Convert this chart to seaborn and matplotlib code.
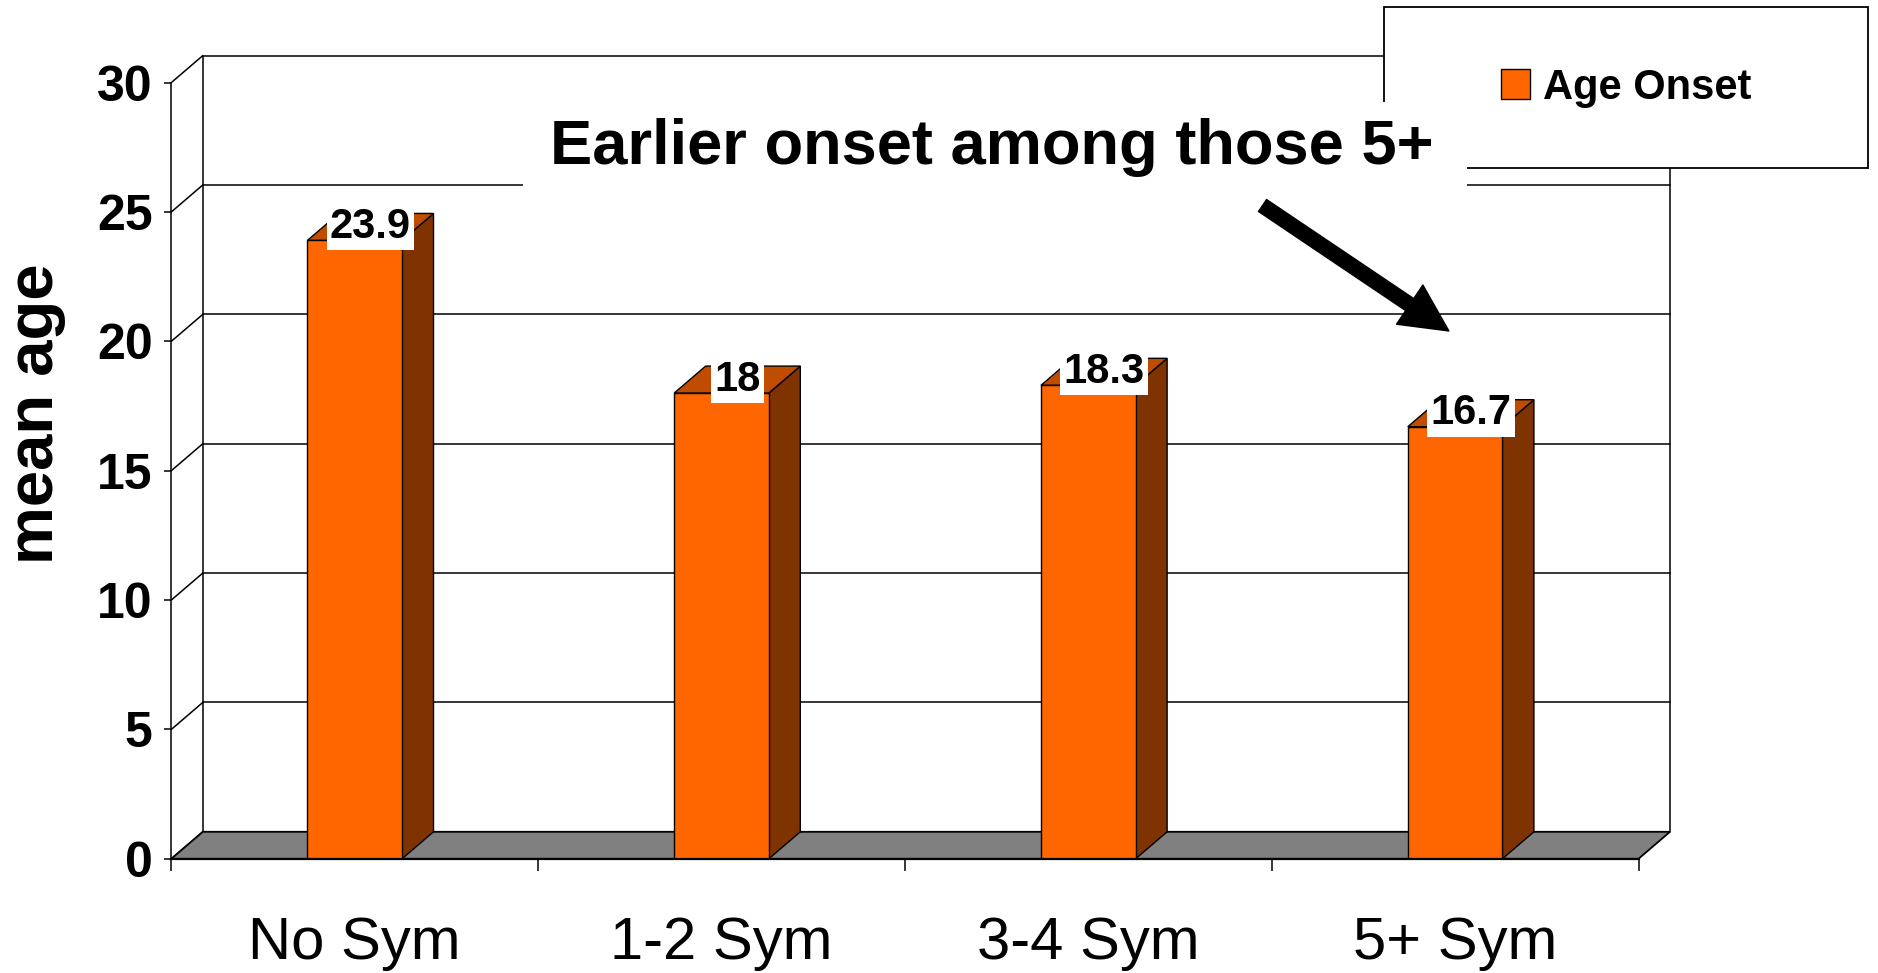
import matplotlib
matplotlib.use("Agg")
import matplotlib.pyplot as plt
from matplotlib.patches import Polygon, Rectangle, Patch
import seaborn as sns
import pandas as pd

# ---- data ----
categories = ["No Sym", "1-2 Sym", "3-4 Sym", "5+ Sym"]
age_onset = [23.9, 18.0, 18.3, 16.7]
y_ticks = [0, 5, 10, 15, 20, 25, 30]
series_name = "Age Onset"
y_title = "mean age"
note = "Earlier onset among those 5+"

FRONT = "#FF6600"
SIDE = "#7F3300"
TOP = "#C04C00"
FLOOR = "#808080"

sns.set_style("white")
plt.rcParams["font.family"] = ["Liberation Sans", "DejaVu Sans"]
plt.rcParams["text.color"] = "black"
plt.rcParams["axes.labelcolor"] = "black"
plt.rcParams["xtick.color"] = "black"
plt.rcParams["ytick.color"] = "black"

W, H = 1878, 973
fig = plt.figure(figsize=(W / 100, H / 100), dpi=100)
ax_l, ax_b, ax_w, ax_h = 171.3, 858.8, 1467.2, 776.2
ax = fig.add_axes([ax_l / W, (H - ax_b) / H, ax_w / W, ax_h / H])

df = pd.DataFrame({"group": categories, "age": age_onset})
sns.barplot(data=df, x="group", y="age", color=FRONT, saturation=1,
            width=0.258, edgecolor="black", linewidth=1.0, ax=ax, zorder=4,
            label=series_name)

ax.set_xlim(-0.5, len(categories) - 0.5)
ax.set_ylim(y_ticks[0], y_ticks[-1])

# depth of the pseudo-3D box, in data units
nx = len(categories)
DX = 31.5 / (ax_w / nx)
DY = 27.0 / (ax_h / (y_ticks[-1] - y_ticks[0]))
x0, x1 = -0.5, nx - 0.5
ytop = y_ticks[-1]

line_kw = dict(color="black", lw=1.1, clip_on=False, zorder=1)
# back wall gridlines and side-wall diagonals
for k in y_ticks:
    if k > 0:
        ax.plot([x0 + DX, x1 + DX], [k + DY, k + DY], **line_kw)
    ax.plot([x0, x0 + DX], [k, k + DY], **line_kw)
ax.plot([x0 + DX, x0 + DX], [DY, ytop + DY], **line_kw)
ax.plot([x1 + DX, x1 + DX], [DY, ytop + DY], **line_kw)

# floor
floor = Polygon([(x0, 0), (x1, 0), (x1 + DX, DY), (x0 + DX, DY)], closed=True,
                facecolor=FLOOR, edgecolor="black", lw=1.3, clip_on=False, zorder=2)
ax.add_patch(floor)

# side and top faces of each bar, plus value labels
for bar, v in zip(ax.patches[:len(age_onset)], age_onset):
    xl = bar.get_x()
    xr = xl + bar.get_width()
    side = Polygon([(xr, 0), (xr, v), (xr + DX, v + DY), (xr + DX, DY)], closed=True,
                   facecolor=SIDE, edgecolor="black", lw=1.0, clip_on=False, zorder=3)
    top = Polygon([(xl, v), (xr, v), (xr + DX, v + DY), (xl + DX, v + DY)], closed=True,
                  facecolor=TOP, edgecolor="black", lw=1.0, clip_on=False, zorder=3)
    ax.add_patch(side)
    ax.add_patch(top)
    ax.text((xl + xr) / 2 + DX / 2, v + DY / 2, f"{v:g}", ha="center", va="center",
            fontsize=30, fontweight="bold", zorder=6,
            bbox=dict(boxstyle="square,pad=0.08", fc="white", ec="none"))

# axes styling
for s in ["top", "right"]:
    ax.spines[s].set_visible(False)
ax.spines["left"].set_linewidth(1.1)
ax.spines["bottom"].set_linewidth(1.6)
ax.spines["left"].set_color("black")
ax.spines["bottom"].set_color("black")
ax.spines["left"].set_zorder(5)
ax.spines["bottom"].set_zorder(5)

ax.set_yticks(y_ticks)
ax.set_yticklabels([str(t) for t in y_ticks], fontsize=36, fontweight="bold")
ax.tick_params(axis="y", direction="out", length=5, width=1.1, pad=8.6, left=True)

ax.set_xticks(range(nx))
ax.set_xticklabels(categories, fontsize=43)
ax.set_xticks([i - 0.5 for i in range(nx + 1)], minor=True)
ax.tick_params(axis="x", which="major", length=0, pad=41)
ax.tick_params(axis="x", which="minor", direction="out", length=8.6, width=1.1, bottom=True)
ax.set_xlabel("")
ax.set_ylabel(y_title, fontsize=47, fontweight="bold")
ax.yaxis.set_label_coords(-0.072, 0.574)
ax.grid(False)
ax.set_facecolor("none")

# legend with its own framed box
lx0, ly0, lx1, ly1 = 1384, 7, 1868, 168
fig.patches.append(Rectangle((lx0 / W, 1 - ly1 / H), (lx1 - lx0) / W, (ly1 - ly0) / H,
                             transform=fig.transFigure, facecolor="white",
                             edgecolor="black", lw=1.3, zorder=4.9))
handles = [Patch(facecolor=FRONT, edgecolor="black", lw=1.0, label=series_name)]
if ax.get_legend() is not None:
    ax.get_legend().remove()
leg = fig.legend(handles=handles, loc="center",
                 bbox_to_anchor=((lx0 + lx1) / 2 / W, 1 - (ly0 + ly1) / 2 / H),
                 frameon=False, prop=dict(size=30, weight="bold"),
                 handlelength=0.7, handleheight=0.75, handletextpad=0.3,
                 borderaxespad=0)
leg.set_zorder(5)

# callout text on a white panel
fig.patches.append(Rectangle((523 / W, 1 - 192 / H), 944 / W, 90 / H,
                             transform=fig.transFigure, facecolor="white",
                             edgecolor="none", zorder=5.5))
fig.text(992 / W, 1 - 164 / H, note, ha="center", va="baseline",
         fontsize=45.5, fontweight="bold", zorder=6)

# arrow pointing at the 5+ group
ax.annotate("", xy=(2.983, 20.4), xytext=(2.475, 25.25),
            arrowprops=dict(arrowstyle="simple,head_length=0.85,head_width=0.85,tail_width=0.26",
                            mutation_scale=40, fc="black", ec="black",
                            shrinkA=0, shrinkB=0),
            annotation_clip=False, zorder=7)

fig.savefig("out.png", dpi=100, facecolor="white")
